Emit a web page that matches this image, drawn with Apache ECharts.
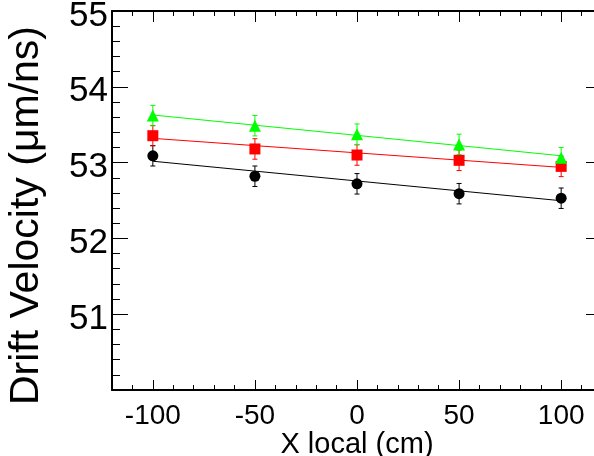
<!DOCTYPE html>
<html>
<head>
<meta charset="utf-8">
<script src="https://cdn.jsdelivr.net/npm/echarts@6/dist/echarts.min.js"></script>
<style>
  html, body { margin: 0; padding: 0; background: #fff; }
  #chart { width: 594px; height: 456px; }
</style>
</head>
<body>
<div id="chart"></div>
<script>
// Drift velocity versus local X position, three measurement sets with straight-line fits
const xPositions = [-100, -50, 0, 50, 100];

const blackValues = [53.09, 52.82, 52.72, 52.59, 52.53];
const blackErrors = [0.135, 0.135, 0.135, 0.135, 0.135];
const redValues = [53.355, 53.18, 53.10, 53.03, 52.95];
const redErrors = [0.135, 0.135, 0.135, 0.135, 0.135];
const greenValues = [53.62, 53.487, 53.375, 53.24, 53.065];
const greenErrors = [0.135, 0.135, 0.135, 0.135, 0.135];

// fitted line values at x = -100 and x = 100
const fitRange = [-100, 100];
const blackFit = [53.018, 52.497];
const redFit = [53.32, 52.937];
const greenFit = [53.628, 53.09];

const xMajorTicks = [-100, -50, 0, 50, 100];
const yLabels = [51, 52, 53, 54, 55];

const FONT = 'Liberation Sans, Arial, Helvetica, sans-serif';

function points(values) {
  return xPositions.map((x, i) => [x, values[i]]);
}
function errorData(values, errors) {
  return xPositions.map((x, i) => [x, values[i] - errors[i], values[i] + errors[i]]);
}
function fitData(fit) {
  return [[fitRange[0], fit[0]], [fitRange[1], fit[1]]];
}

function errorBarSeries(values, errors, color) {
  return {
    type: 'custom',
    xAxisIndex: 0, yAxisIndex: 0,
    data: errorData(values, errors),
    z: 3,
    renderItem: function (params, api) {
      const x = api.value(0);
      const lo = api.coord([x, api.value(1)]);
      const hi = api.coord([x, api.value(2)]);
      const cap = 2.5;
      const style = { stroke: color, lineWidth: 1 };
      return {
        type: 'group',
        children: [
          { type: 'line', shape: { x1: lo[0], y1: lo[1], x2: hi[0], y2: hi[1] }, style: style },
          { type: 'line', shape: { x1: lo[0] - cap, y1: lo[1], x2: lo[0] + cap, y2: lo[1] }, style: style },
          { type: 'line', shape: { x1: hi[0] - cap, y1: hi[1], x2: hi[0] + cap, y2: hi[1] }, style: style }
        ]
      };
    }
  };
}

function fitSeries(fit, color) {
  return {
    type: 'line',
    xAxisIndex: 0, yAxisIndex: 0,
    data: fitData(fit),
    showSymbol: false,
    silent: true,
    lineStyle: { color: color, width: 1 },
    z: 2
  };
}

function markerSeries(values, color, symbol, size) {
  return {
    type: 'scatter',
    xAxisIndex: 0, yAxisIndex: 0,
    data: points(values),
    symbol: symbol,
    symbolSize: size,
    itemStyle: { color: color, opacity: 1 },
    z: 4
  };
}

const axisLineStyle = { show: true, onZero: false, lineStyle: { color: '#000', width: 2 } };

const chart = echarts.init(document.getElementById('chart'));
chart.setOption({
  animation: false,
  backgroundColor: '#fff',
  grid: { left: 112, top: 11, right: -8, bottom: 66, containLabel: false, outerBoundsMode: 'none' },
  xAxis: [
    {
      type: 'value', position: 'bottom', min: -120, max: 120, interval: 10,
      axisLine: axisLineStyle,
      axisTick: { show: true, inside: true, length: 5, lineStyle: { color: '#000', width: 1 } },
      axisLabel: { show: false },
      splitLine: { show: false },
      name: 'X local (cm)', nameLocation: 'middle', nameGap: 40,
      nameTextStyle: { fontFamily: FONT, fontSize: 29, color: '#000' }
    },
    {
      type: 'value', position: 'bottom', min: -120, max: 120,
      axisLine: { show: false },
      axisTick: { show: true, inside: true, length: 10, customValues: xMajorTicks, lineStyle: { color: '#000', width: 1 } },
      axisLabel: { show: true, customValues: xMajorTicks, margin: 12, fontFamily: FONT, fontSize: 28, color: '#000' },
      splitLine: { show: false }
    },
    {
      type: 'value', position: 'top', min: -120, max: 120, interval: 10,
      axisLine: axisLineStyle,
      axisTick: { show: true, inside: true, length: 5, lineStyle: { color: '#000', width: 1 } },
      axisLabel: { show: false },
      splitLine: { show: false }
    },
    {
      type: 'value', position: 'top', min: -120, max: 120,
      axisLine: { show: false },
      axisTick: { show: true, inside: true, length: 11, customValues: xMajorTicks, lineStyle: { color: '#000', width: 1 } },
      axisLabel: { show: false },
      splitLine: { show: false }
    }
  ],
  yAxis: [
    {
      type: 'value', position: 'left', min: 50, max: 55, interval: 1,
      axisLine: axisLineStyle,
      axisTick: { show: true, inside: true, length: 16, lineStyle: { color: '#000', width: 1 } },
      minorTick: { show: true, splitNumber: 5, length: 8, lineStyle: { color: '#000', width: 1 } },
      axisLabel: { show: true, customValues: yLabels, margin: 4, fontFamily: FONT, fontSize: 35, color: '#000', verticalAlign: 'top', lineHeight: 10 },
      splitLine: { show: false },
      name: 'Drift Velocity (μm/ns)', nameLocation: 'middle', nameGap: 65, nameRotate: 90,
      nameTextStyle: { fontFamily: FONT, fontSize: 41, color: '#000', padding: [0, 30, 0, 0] }
    },
    {
      type: 'value', position: 'right', min: 50, max: 55, interval: 1,
      axisLine: axisLineStyle,
      axisTick: { show: true, inside: true, length: 16, lineStyle: { color: '#000', width: 1 } },
      minorTick: { show: true, splitNumber: 5, length: 8, lineStyle: { color: '#000', width: 1 } },
      axisLabel: { show: false },
      splitLine: { show: false }
    }
  ],
  series: [
    fitSeries(blackFit, '#000000'),
    fitSeries(redFit, '#ff0000'),
    fitSeries(greenFit, '#00ff00'),
    errorBarSeries(blackValues, blackErrors, '#000000'),
    errorBarSeries(redValues, redErrors, '#ff0000'),
    errorBarSeries(greenValues, greenErrors, '#00ff00'),
    markerSeries(blackValues, '#000000', 'circle', 11),
    markerSeries(redValues, '#ff0000', 'rect', 11),
    markerSeries(greenValues, '#00ff00', 'triangle', 12)
  ]
});
</script>
</body>
</html>
